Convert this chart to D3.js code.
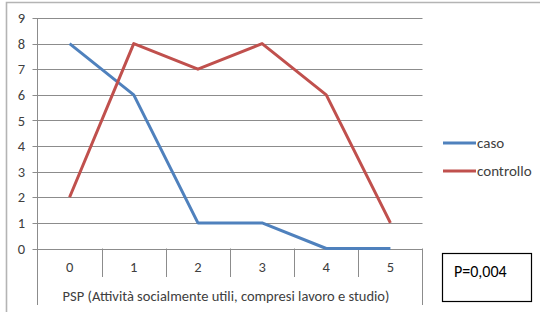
<!DOCTYPE html>
<html>
<head>
<meta charset="utf-8">
<script src="https://cdn.jsdelivr.net/npm/d3@7"></script>
<style>
  body { margin: 0; background: #fff; }
  svg { display: block; font-family: Calibri, Carlito, "Liberation Sans", Arial, sans-serif; }
</style>
</head>
<body>
<div id="chart"></div>
<script>
// values
const categories = ['0', '1', '2', '3', '4', '5']
const caso = [8, 6, 1, 1, 0, 0]
const controllo = [2, 8, 7, 8, 6, 1]
const yTicks = [0, 1, 2, 3, 4, 5, 6, 7, 8, 9]
const seriesNames = ['caso', 'controllo']
const xTitle = 'PSP (Attività socialmente utili, compresi lavoro e studio)'
const pText = 'P=0,004'

const width = 540, height = 312
const plot = {left: 37.5, right: 422.5, top: 18, bottom: 248.5}

const svg = d3.select('#chart').append('svg')
    .attr('width', width)
    .attr('height', height)

// outer frame (top and left edges visible)
svg.append('path')
    .attr('d', `M6.5,${height} V2.5 H${width}`)
    .attr('fill', 'none')
    .attr('stroke', '#b4b4b4')
    .attr('stroke-width', 1.6)

const x = d3.scaleBand()
    .domain(categories)
    .range([plot.left, plot.right])

const y = d3.scaleLinear()
    .domain([0, 9])
    .range([plot.bottom, plot.top])

// horizontal gridlines with small tick to the left
svg.append('g')
    .selectAll('line')
    .data(yTicks)
    .enter()
    .append('line')
    .attr('x1', plot.left - 5)
    .attr('x2', plot.right)
    .attr('y1', d => Math.round(y(d)) + 0.5)
    .attr('y2', d => Math.round(y(d)) + 0.5)
    .attr('stroke', '#8c8c8c')
    .attr('stroke-width', 1)

// y labels
svg.append('g')
    .selectAll('text')
    .data(yTicks)
    .enter()
    .append('text')
    .attr('x', 25)
    .attr('y', d => y(d))
    .attr('dy', '0.35em')
    .attr('text-anchor', 'end')
    .attr('font-size', 14.5)
    .attr('fill', '#404040')
    .text(d => d)

// y axis line and right edge extend through the label rows
svg.append('line')
    .attr('x1', plot.left).attr('x2', plot.left)
    .attr('y1', plot.top).attr('y2', 305)
    .attr('stroke', '#8c8c8c')
svg.append('line')
    .attr('x1', plot.right).attr('x2', plot.right)
    .attr('y1', plot.bottom).attr('y2', 305)
    .attr('stroke', '#8c8c8c')

// category dividers under the axis
svg.append('g')
    .selectAll('line')
    .data(categories.slice(1))
    .enter()
    .append('line')
    .attr('x1', d => Math.round(x(d)) + 0.5)
    .attr('x2', d => Math.round(x(d)) + 0.5)
    .attr('y1', plot.bottom)
    .attr('y2', 277)
    .attr('stroke', '#8c8c8c')

// x labels
svg.append('g')
    .selectAll('text')
    .data(categories)
    .enter()
    .append('text')
    .attr('x', d => x(d) + x.bandwidth() / 2)
    .attr('y', 267)
    .attr('dy', '0.35em')
    .attr('text-anchor', 'middle')
    .attr('font-size', 14.5)
    .attr('fill', '#404040')
    .text(d => d)

svg.append('text')
    .attr('x', 226)
    .attr('y', 296)
    .attr('dy', '0.35em')
    .attr('text-anchor', 'middle')
    .attr('font-size', 14.5)
    .attr('fill', '#404040')
    .text(xTitle)

// lines
const colors = ['#4f81bd', '#c0504d']
const line = d3.line()
    .x((d, i) => x(categories[i]) + x.bandwidth() / 2)
    .y(d => y(d))

;[caso, controllo].forEach((values, i) => {
  svg.append('path')
      .datum(values)
      .attr('d', line)
      .attr('fill', 'none')
      .attr('stroke', colors[i])
      .attr('stroke-width', 3)
      .attr('stroke-linejoin', 'round')
})

// legend
const legend = svg.append('g')
    .selectAll('g')
    .data(seriesNames)
    .enter()
    .append('g')
    .attr('transform', (d, i) => `translate(443,${143 + i * 28})`)

legend.append('line')
    .attr('x1', 0).attr('x2', 33)
    .attr('stroke', (d, i) => colors[i])
    .attr('stroke-width', 3)

legend.append('text')
    .attr('x', 34)
    .attr('dy', '0.35em')
    .attr('font-size', 15)
    .attr('fill', '#404040')
    .text(d => d)

// p-value box
svg.append('rect')
    .attr('x', 442.5).attr('y', 253.5)
    .attr('width', 89).attr('height', 48)
    .attr('fill', '#fff')
    .attr('stroke', '#000')
    .attr('stroke-width', 1.2)

svg.append('text')
    .attr('x', 454)
    .attr('y', 271)
    .attr('dy', '0.35em')
    .attr('font-size', 16)
    .attr('fill', '#000')
    .text(pText)
</script>
</body>
</html>
